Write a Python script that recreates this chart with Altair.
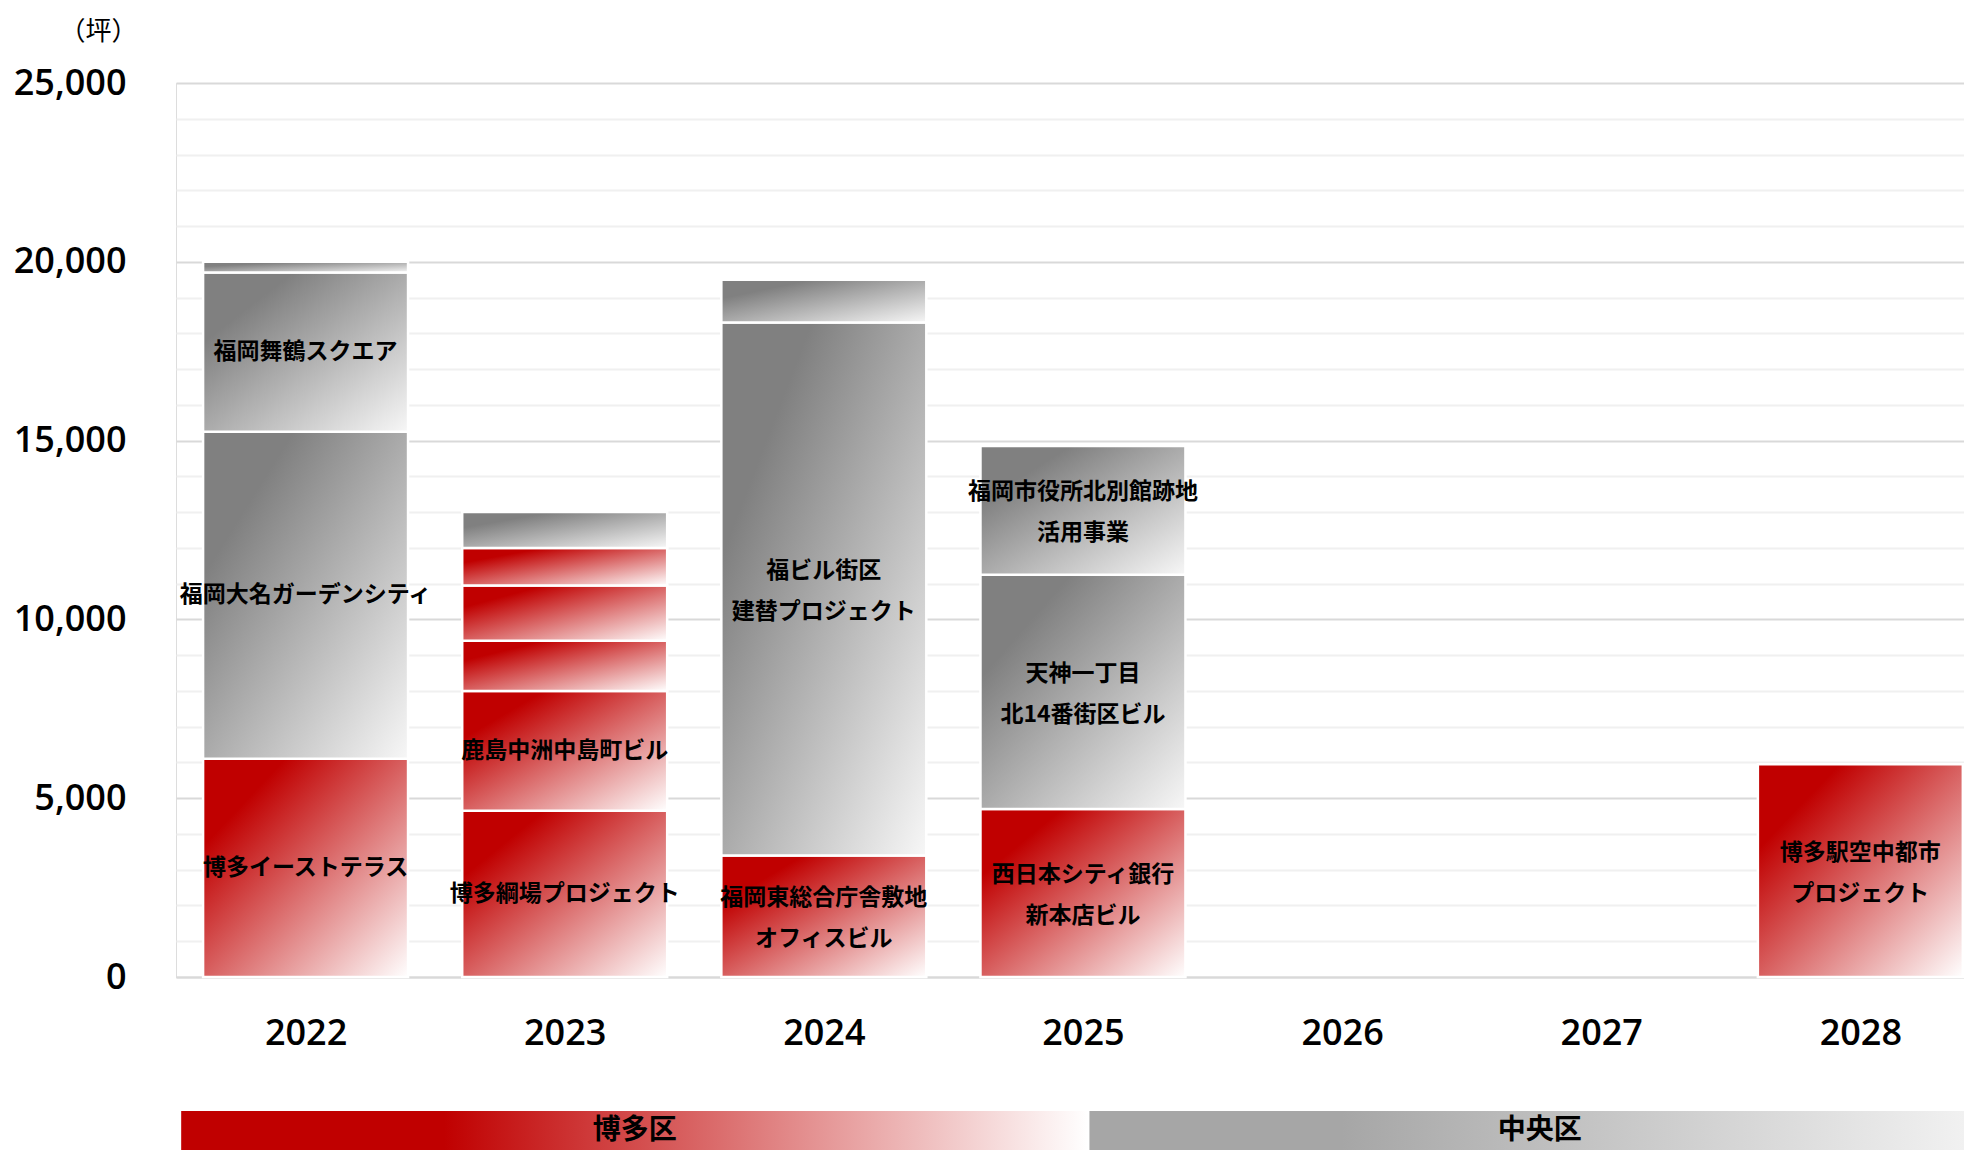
import altair as alt
import pandas as pd

# ---------------- data ----------------
years = [2022, 2023, 2024, 2025, 2026, 2027, 2028]

seg_year = [2022, 2022, 2022, 2022,
            2023, 2023, 2023, 2023, 2023, 2023,
            2024, 2024, 2024,
            2025, 2025, 2025,
            2028]
seg_name = ["博多イーストテラス", "福岡大名ガーデンシティ", "福岡舞鶴スクエア", "",
            "博多綱場プロジェクト", "鹿島中洲中島町ビル", "", "", "", "",
            "福岡東総合庁舎敷地\nオフィスビル", "福ビル街区\n建替プロジェクト", "",
            "西日本シティ銀行\n新本店ビル", "天神一丁目\n北14番街区ビル", "福岡市役所北別館跡地\n活用事業",
            "博多駅空中都市\nプロジェクト"]
seg_area = [6100, 9150, 4450, 300,
            4650, 3350, 1400, 1550, 1050, 1000,
            3400, 14900, 1200,
            4700, 6550, 3600,
            5950]
seg_ward = ["博多区", "中央区", "中央区", "中央区",
            "博多区", "博多区", "博多区", "博多区", "博多区", "中央区",
            "博多区", "中央区", "中央区",
            "博多区", "中央区", "中央区",
            "博多区"]

wards = ["博多区", "中央区"]
ward_start = [2021.52, 2025.025]
ward_end = [2025.02, 2028.5]

y_ticks = list(range(0, 25001, 1000))

df = pd.DataFrame({"year": seg_year, "name": seg_name, "area": seg_area, "ward": seg_ward})
df["order"] = df.groupby("year").cumcount()
wdf = pd.DataFrame({"ward": wards, "start": ward_start, "end": ward_end})

# ---------------- styles ----------------
JP = "Noto Sans CJK JP"
NUM = "Open Sans"
HALF = 0.3955

xscale = alt.Scale(domain=[2021.5, 2028.4], nice=False, zero=False)
yscale = alt.Scale(domain=[0, 25000], nice=False, zero=True)

xaxis = alt.Axis(values=years, format="d", title=None, grid=False, ticks=False,
                 domain=True, domainColor="#d9d9d9", domainWidth=2,
                 labelFontSize=36, labelFont=NUM, labelFontWeight=600, labelColor="black",
                 labelPadding=56, labelBaseline="middle", labelOverlap=False,
                 labelFlush=False)
yaxis = alt.Axis(values=y_ticks,
                 labelExpr="datum.value % 5000 === 0 ? format(datum.value, ',') : ''",
                 grid=True,
                 gridColor=alt.condition("datum.value % 5000 === 0", alt.value("#d9d9d9"), alt.value("#f0f0f0")),
                 gridWidth=2, domain=False, ticks=False,
                 labelFontSize=36, labelFont=NUM, labelFontWeight=600, labelColor="black",
                 labelPadding=50, labelBaseline="middle", labelOverlap=False,
                 title="（坪）", titleAngle=0, titleX=-78, titleY=-52,
                 titleAlign="center", titleBaseline="middle", titleFontSize=26,
                 titleFontWeight="normal", titleFont=JP, titleColor="black")


def diag(c0, c1, mid=0.2):
    return alt.LinearGradient(gradient="linear", x1=0, y1=0, x2=1, y2=1,
                              stops=[alt.GradientStop(color=c0, offset=0),
                                     alt.GradientStop(color=c0, offset=mid),
                                     alt.GradientStop(color=c1, offset=1)])


def horiz(c0, c1, mid=0.28):
    return alt.LinearGradient(gradient="linear", x1=0, y1=0, x2=1, y2=0,
                              stops=[alt.GradientStop(color=c0, offset=0),
                                     alt.GradientStop(color=c0, offset=mid),
                                     alt.GradientStop(color=c1, offset=1)])


red_grad = diag("#c00000", "#ffffff", 0.2)
gray_grad = diag("#808080", "#f7f7f7", 0.22)

base = alt.Chart(df).transform_stack(
    stack="area", groupby=["year"], as_=["y0", "y1"],
    sort=[alt.SortField(field="order", order="ascending")]
).transform_calculate(
    xa=f"datum.year - {HALF}", xb=f"datum.year + {HALF}",
    ym="(datum.y0 + datum.y1) / 2"
)

enc = dict(x=alt.X("xa:Q", scale=xscale, axis=xaxis), x2="xb:Q",
           y=alt.Y("y0:Q", scale=yscale, axis=yaxis), y2="y1:Q")

red_bars = base.transform_filter("datum.ward === '博多区'").mark_rect(
    fill=red_grad, stroke="white", strokeWidth=2.5).encode(**enc)
gray_bars = base.transform_filter("datum.ward === '中央区'").mark_rect(
    fill=gray_grad, stroke="white", strokeWidth=2.5).encode(**enc)

label_enc = dict(x=alt.X("year:Q", scale=xscale, axis=xaxis),
                 y=alt.Y("ym:Q", scale=yscale, axis=yaxis),
                 text="name:N")
label_style = dict(font=JP, fontSize=23, fontWeight="bold", color="black", lineBreak="\n",
                   lineHeight=41, baseline="middle", align="center")

labels_one = base.transform_filter(
    "datum.name !== '' && indexof(datum.name, '\\n') < 0"
).mark_text(**label_style).encode(**label_enc)
labels_two = base.transform_filter(
    "indexof(datum.name, '\\n') >= 0"
).mark_text(dy=-18, **label_style).encode(**label_enc)

wbase = alt.Chart(wdf)
band_enc = dict(x=alt.X("start:Q", scale=xscale, axis=xaxis), x2="end:Q",
                y=alt.value(1028), y2=alt.value(1067))
band_red = wbase.transform_filter("datum.ward === '博多区'").mark_rect(
    fill=horiz("#c00000", "#ffffff", 0.29)).encode(**band_enc)
band_gray = wbase.transform_filter("datum.ward === '中央区'").mark_rect(
    fill=horiz("#a6a6a6", "#f4f4f4", 0.28)).encode(**band_enc)
band_text = wbase.transform_calculate(c="(datum.start + datum.end) / 2").mark_text(
    font=JP, fontSize=28, fontWeight="bold", color="black", baseline="middle", align="center"
).encode(x=alt.X("c:Q", scale=xscale, axis=xaxis), y=alt.value(1048), text="ward:N")

chart = alt.layer(red_bars, gray_bars, labels_one, labels_two, band_red, band_gray, band_text).properties(
    width=1788, height=894,
    padding={"left": 168, "top": 75, "right": 0, "bottom": 173},
    autosize=alt.AutoSizeParams(type="none"),
).configure_view(stroke=None).configure(background="white")

chart.save("out.html", embed_options={"renderer": "svg", "actions": False})
